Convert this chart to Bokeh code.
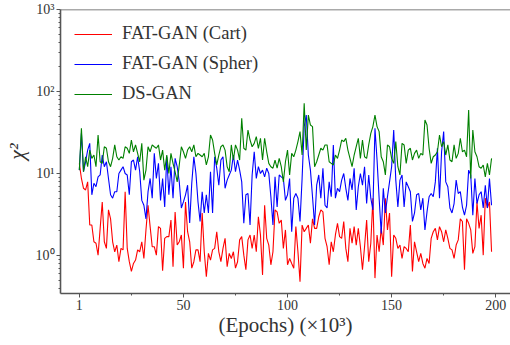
from bokeh.plotting import figure
from bokeh.models import Range1d, FixedTicker, Legend, LegendItem, Span
from bokeh.embed import file_html
from bokeh.resources import INLINE

# ---- data ----
epochs = list(range(0, 199))

red_vals = [
    13.3, 8.7, 6.6, 6.3, 7.9, 2.35, 2.35, 1.47, 1.41, 1.01, 2.14, 4.5, 1.47, 1.22, 3.6, 2.8, 1.47, 1.11, 1.34, 0.84,
    1.22, 1.17, 6.0, 1.22, 0.84, 0.64, 0.80, 0.88, 1.17, 1.11, 1.47, 0.92, 2.05, 4.1, 2.25, 1.28, 1.28, 1.01,
    2.25, 2.14, 0.65, 1.62, 1.70, 1.70, 2.7, 0.73, 3.4, 1.34, 1.47, 1.78, 0.70, 4.5, 1.95, 1.47, 0.70, 0.84, 1.17, 1.17,
    0.84, 3.3, 1.11, 0.55, 1.06, 0.88, 1.17, 1.22, 1.95, 1.11, 0.84, 1.22, 1.62, 0.73, 1.06, 0.92, 1.11, 0.70, 0.84, 1.55, 1.70,
    1.01, 0.67, 1.55, 1.78, 1.22, 1.78, 1.11, 2.97, 1.78, 0.58, 4.1, 1.62, 1.34, 0.77, 1.11, 3.6, 3.4, 2.47, 2.7, 1.22,
    2.05, 0.77, 0.92, 0.80, 0.70, 2.25, 1.11, 0.48, 2.35, 1.95, 2.14, 2.35, 1.41, 2.8, 2.14, 2.14, 2.97, 3.6, 3.4, 1.62,
    1.28, 0.77, 1.47, 1.11, 1.78, 2.47, 1.70, 1.62, 2.6, 1.22, 0.84, 2.14, 1.41, 2.25, 1.34, 2.14, 1.28, 0.67, 1.28, 2.7,
    0.84, 1.41, 5.0, 0.53, 1.78, 1.11, 2.14, 1.34, 5.0, 2.05, 3.3, 0.55, 1.78, 1.62, 1.22, 1.34, 0.92, 1.28, 1.22, 1.11,
    2.35, 0.64, 1.47, 1.11, 0.84, 1.06, 0.80, 0.70, 0.92, 0.80, 1.62, 1.95, 2.14, 1.55, 2.25, 1.95, 1.47, 2.05, 1.62, 1.22,
    1.17, 0.92, 1.34, 1.55, 2.8, 2.6, 0.67, 2.8, 2.47, 2.05, 1.06, 1.28, 4.5, 2.14, 3.1, 1.01, 5.0, 3.8, 4.5, 1.11,
]

blue_vals = [
    11.0, 30.9, 10.5, 13.9, 19.3, 23.3, 5.5, 7.6, 6.9, 9.1, 9.6, 16.8, 12.1, 13.9, 8.7, 5.5, 5.0, 6.0, 6.0, 10.0,
    11.0, 12.1, 10.0, 9.6, 5.5, 13.9, 14.6, 11.0, 16.0, 10.5, 4.7, 4.1, 2.8, 6.0, 8.7, 5.0, 17.6, 8.7,
    13.3, 4.7, 8.7, 3.9, 16.0, 5.5, 12.1, 5.0, 15.3, 12.1, 7.9, 3.8, 4.5, 5.5, 7.2, 2.5, 7.6, 16.0, 10.0, 4.5,
    2.6, 6.0, 3.3, 5.5, 3.3, 10.5, 3.3, 16.0, 11.6, 7.2, 14.6, 16.0, 6.6, 8.3, 9.6, 11.0, 16.8, 10.5, 14.6, 11.0, 7.9,
    2.47, 5.5, 5.7, 2.35, 9.6, 18.4, 8.7, 12.1, 10.0, 11.0, 9.1, 11.6, 10.0, 5.2, 2.35, 9.1, 3.9, 9.6, 9.1, 8.7,
    4.7, 5.5, 8.7, 1.95, 5.0, 5.7, 5.0, 2.6, 8.7, 37.3, 51.5, 16.8, 11.0, 5.2, 2.35, 7.2, 9.6, 5.0, 11.6, 4.1,
    3.8, 7.9, 5.2, 22.3, 5.0, 6.6, 6.0, 8.3, 10.0, 6.6, 4.7, 8.7, 6.3, 11.6, 3.6, 6.9, 10.0, 7.2, 12.1, 4.3,
    9.6, 5.0, 3.6, 35.6, 14.6, 5.0, 1.86, 6.6, 3.3, 5.2, 7.9, 12.1, 33.9, 8.3, 3.9, 8.3, 9.6, 3.9, 7.9, 6.9,
    6.0, 2.6, 3.3, 5.5, 5.7, 3.6, 5.0, 2.05, 3.4, 5.2, 5.7, 5.2, 7.9, 20.3, 5.0, 18.4, 32.4, 7.9, 6.9, 3.8,
    3.3, 4.3, 8.3, 5.7, 6.0, 3.9, 3.1, 4.1, 11.0, 9.6, 3.1, 8.7, 4.3, 5.5, 6.0, 3.8, 7.2, 3.8, 8.7, 4.1,
]

green_vals = [
    11.0, 35.6, 10.5, 16.0, 12.1, 19.3, 15.3, 16.8, 12.1, 29.5, 13.9, 13.3, 21.2, 20.3, 13.9, 12.1, 15.3, 22.3, 16.0, 14.6,
    16.0, 15.3, 21.2, 20.3, 17.6, 25.6, 18.4, 22.3, 17.6, 13.9, 23.3, 8.3, 11.0, 21.2, 18.4, 22.3, 21.2, 20.3,
    22.3, 14.6, 19.3, 11.0, 16.8, 10.0, 17.6, 13.3, 10.5, 7.9, 12.7, 21.2, 18.4, 15.3, 19.3, 21.2, 18.4, 22.3, 16.0, 17.6,
    16.8, 16.0, 17.6, 12.7, 16.0, 29.5, 25.6, 17.6, 12.7, 16.8, 21.2, 22.3, 19.3, 12.1, 10.5, 22.3, 14.6, 22.3, 19.3, 14.6, 47.0,
    20.3, 19.3, 33.9, 25.6, 21.2, 23.3, 28.1, 20.3, 26.9, 14.6, 26.9, 18.4, 13.3, 12.1, 11.6, 14.6, 11.6, 15.3, 12.1, 7.9,
    13.9, 19.3, 9.6, 17.6, 16.0, 19.3, 24.5, 32.4, 16.8, 71.7, 19.3, 51.5, 39.0, 37.3, 12.1, 13.9, 16.8, 20.3, 19.3, 22.3,
    22.3, 13.9, 13.3, 12.7, 16.8, 15.3, 19.3, 25.6, 24.5, 26.9, 19.3, 15.3, 12.1, 16.8, 21.2, 26.9, 15.3, 25.6, 16.0, 15.3,
    22.3, 30.9, 37.3, 51.5, 37.3, 32.4, 16.0, 13.9, 9.6, 22.3, 21.2, 15.3, 13.3, 24.5, 12.1, 9.6, 23.3, 22.3, 13.3, 19.3,
    20.3, 14.6, 17.6, 19.3, 15.3, 17.6, 16.8, 44.9, 39.0, 20.3, 13.3, 16.0, 16.8, 18.4, 29.5, 21.2, 24.5, 16.8, 22.3, 14.6,
    13.9, 22.3, 15.3, 17.6, 26.9, 18.4, 19.3, 16.0, 59.5, 8.7, 33.9, 18.4, 16.0, 12.1, 11.6, 12.7, 9.1, 13.3, 9.6, 15.3,
]

series_names = ["FAT-GAN (Cart)", "FAT-GAN (Spher)", "DS-GAN"]
series_colors = ["#ff0000", "#0000ff", "#008000"]

x_ticks = [0, 50, 100, 150, 200]
x_tick_labels = ["1", "50", "100", "150", "200"]
x_minor = [25, 75, 125, 175]
y_ticks = [1, 10, 100, 1000]
y_tick_labels = ["10\u2070", "10\u00b9", "10\u00b2", "10\u00b3"]
y_minor = [0.4, 0.5, 0.6, 0.7, 0.8, 0.9] + [m * d for d in (1, 10, 100) for m in range(2, 10)]

x_label = "(Epochs) (\u00d710\u00b3)"
y_label = "\u03c7\u00b2"

FONT = "Liberation Serif"
AX = "#555555"
TXT = "#333333"

p = figure(width=510, height=345, output_backend="svg", toolbar_location=None,
           y_axis_type="log",
           x_range=Range1d(-9.05, 207.1), y_range=Range1d(0.344, 1000),
           min_border_left=56, min_border_right=0, min_border_top=9, min_border_bottom=52)
p.outline_line_color = None
p.xgrid.visible = False
p.ygrid.visible = False
p.background_fill_color = "white"
p.border_fill_color = "white"

renderers = []
for vals, col in zip([red_vals, blue_vals, green_vals], series_colors):
    r = p.line(epochs, vals, line_color=col, line_width=1.1)
    renderers.append(r)

# top spine
p.add_layout(Span(location=1000, dimension="width", line_color=AX, line_width=1.6))

for ax in (p.xaxis[0], p.yaxis[0]):
    ax.axis_line_color = AX
    ax.axis_line_width = 1.6
    ax.major_tick_line_color = AX
    ax.minor_tick_line_color = AX
    ax.major_tick_in = 0
    ax.major_tick_out = 4
    ax.minor_tick_in = 0
    ax.minor_tick_out = 2
    ax.major_label_text_font = FONT
    ax.major_label_text_font_size = "14px"
    ax.major_label_text_color = TXT
    ax.major_label_standoff = 2
    ax.axis_label_text_font = FONT
    ax.axis_label_text_color = TXT

p.xaxis.ticker = FixedTicker(ticks=x_ticks, minor_ticks=x_minor)
p.xaxis.major_label_overrides = {t: l for t, l in zip(x_ticks, x_tick_labels)}
p.xaxis.axis_label = x_label
p.xaxis.axis_label_text_font_size = "21px"
p.xaxis.axis_label_text_font_style = "normal"
p.xaxis.axis_label_standoff = 0

p.yaxis.ticker = FixedTicker(ticks=y_ticks, minor_ticks=y_minor)
p.yaxis.major_label_overrides = {t: l for t, l in zip(y_ticks, y_tick_labels)}
p.yaxis.axis_label = y_label
p.yaxis.axis_label_text_font_size = "22px"
p.yaxis.axis_label_text_font_style = "italic"
p.yaxis.axis_label_standoff = 4

legend = Legend(items=[LegendItem(label=n, renderers=[r]) for n, r in zip(series_names, renderers)],
                location="top_left")
legend.margin = 14
legend.padding = 0
legend.glyph_width = 38
legend.glyph_height = 18
legend.label_height = 18
legend.spacing = 9
legend.label_standoff = 10
legend.label_text_font = FONT
legend.label_text_font_size = "18.5px"
legend.label_text_color = TXT
legend.background_fill_alpha = 0
legend.border_line_color = None
p.add_layout(legend)

open("out.html", "w").write(file_html(p, INLINE))
